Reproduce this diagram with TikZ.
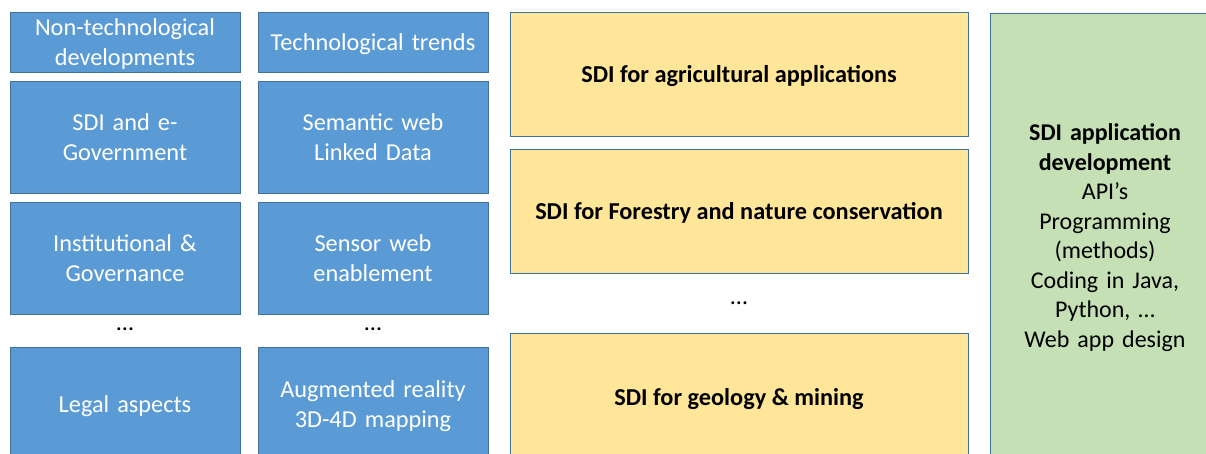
\documentclass[tikz,border=0pt]{standalone}
\usepackage{fontspec}
\setmainfont{Carlito}
\definecolor{boxblue}{HTML}{5B9BD5}
\definecolor{edgeblue}{HTML}{41719C}
\definecolor{boxyellow}{HTML}{FFE699}
\definecolor{boxgreen}{HTML}{C5E0B4}
\tikzset{
  topic/.style={draw=edgeblue, line width=0.9pt, fill=boxblue, text=white,
    minimum width=230pt, text width=226pt, align=center, inner sep=0pt,
    font=\fontsize{24.3}{30}\selectfont},
  oneline/.style={text depth=0pt},
  twoline/.style={text depth=30pt},
  fieldbox/.style={draw=edgeblue, line width=0.9pt, fill=boxyellow,
    minimum width=458pt, minimum height=124pt, align=center, inner sep=0pt,
    text depth=0pt, font=\fontsize{24.3}{30}\selectfont\bfseries},
  devbox/.style={draw=edgeblue, line width=0.9pt, fill=boxgreen,
    minimum width=230pt, minimum height=449pt, text width=226pt, align=center,
    inner sep=0pt, font=\fontsize{24}{29.5}\selectfont},
  more/.style={font=\fontsize{24.3}{30}\selectfont}
}
\begin{document}
\begin{tikzpicture}[x=1pt, y=-1pt]
\useasboundingbox (0,0) rectangle (1206,454);
\clip (0,0) rectangle (1206,454);
% left column: non-technological topics
\node[topic, twoline, minimum height=60pt] (nontech) at (125,42) {Non-technological\\developments};
\node[topic, twoline, minimum height=112pt] (egov) at (125,137) {SDI and e-\\Government};
\node[topic, twoline, minimum height=112pt] (gov) at (125,258) {Institutional \&\\Governance};
\node[more] (dotsA) at (125,329) {…};
\node[topic, oneline, minimum height=114pt] (legal) at (125,404) {Legal aspects};
% second column: technological trends
\node[topic, oneline, minimum height=60pt] (tech) at (373,42) {Technological trends};
\node[topic, twoline, minimum height=112pt] (semweb) at (373,137) {Semantic web\\Linked Data};
\node[topic, twoline, minimum height=112pt] (sensor) at (373,258) {Sensor web\\enablement};
\node[more] (dotsB) at (373,329) {…};
\node[topic, twoline, minimum height=114pt] (ar) at (373,404) {Augmented reality\\3D-4D mapping};
% application domains
\node[fieldbox] (agri) at (739,74) {SDI for agricultural applications};
\node[fieldbox] (forest) at (739,211) {SDI for Forestry and nature conservation};
\node[more] (dotsC) at (739,303) {…};
\node[fieldbox, minimum height=128pt] (geo) at (739,397) {SDI for geology \& mining};
% development column
\node[devbox] (appdev) at (1105,237.5) {\textbf{SDI application}\\\textbf{development}\\API’s\\Programming\\(methods)\\Coding in Java,\\Python, …\\Web app design};
\end{tikzpicture}
\end{document}
